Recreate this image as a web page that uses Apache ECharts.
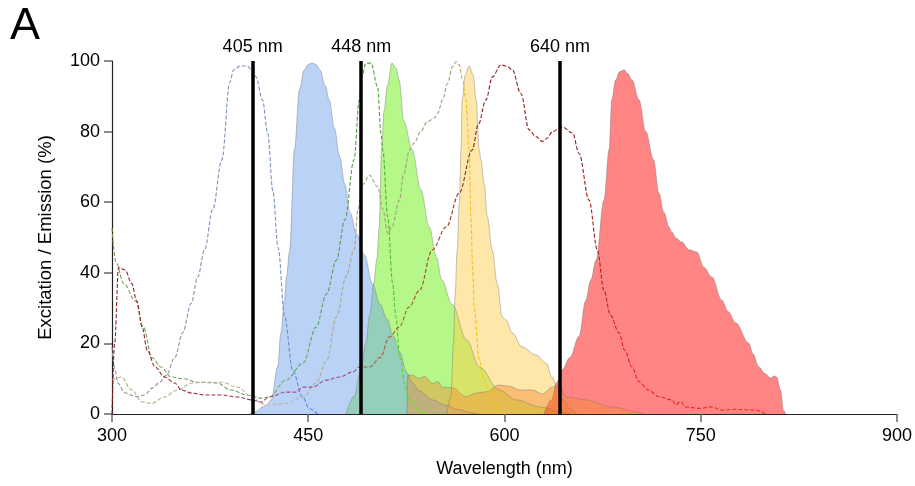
<!DOCTYPE html>
<html>
<head>
<meta charset="utf-8">
<script src="https://cdn.jsdelivr.net/npm/echarts@6/dist/echarts.min.js"></script>
<style>
html,body{margin:0;padding:0;background:#fff;}
#chart{width:915px;height:486px;}
</style>
</head>
<body>
<div id="chart"></div>
<script>
// ---------- DATA ----------
var panelLabel = 'A';
var xTitle = 'Wavelength (nm)';
var yTitle = 'Excitation / Emission (%)';
var xTicks = [300, 450, 600, 750, 900];
var yTicks = [0, 20, 40, 60, 80, 100];

var laserPos = [407.5, 490.5, 642.5];
var laserLabels = ['405 nm', '448 nm', '640 nm'];

// Emission (filled)
var blueEmWl  = [405,410,415,418,421.7,426.7,429,431.8,433.4,435.7,439.5,443.3,447,450,453,456,459,463,466,470,474,478,482,487,493,499,505,510,515,520,525,529,535,545,555,565,575,580];
var blueEmVal = [0,0.7,2,2.5,4,13.4,22.8,32,39,46,75,92,97.5,99,99.4,99,97.5,93,89,81,73,65,57,51,45,37,31,27,22,17.5,12,9,6.5,4,2.5,1.2,0.3,0];

var greenEmWl  = [479,485,490,494,497,500,502.5,504.3,506,508,510.5,514,517,519.5,523,529.5,536,542.5,548,552,560,571,581,596,609,627,645,650];
var greenEmVal = [0,5,12,20,28,37,44,53,75,86,93,99.4,98,94.6,83,74.8,63.5,53,44.5,38,31,21,13.3,6.8,4,2,0.5,0];

var yellowEmWl  = [556,559,561,562.3,563.8,565.5,566.8,567.6,570,573,576,578.3,580.6,582,584.5,586.8,590.6,594.4,598.2,601.3,605.9,613.5,624.2,631.8,636.4,640.2,645,650,655];
var yellowEmVal = [0,5,20,34,46,60,75,89,96,98.6,96,89,75,72,65,56,46.5,37,27.5,26.6,23,19,16.7,14.4,10.5,7.6,4,1.5,0];

var orangeEmWl  = [525.5,526,529.8,534.9,538.7,545,548.9,552.7,560.3,570.5,578.2,585.8,595.9,603.6,611.2,621.4,629,636.6,641.8,647,662,682,702.7,706];
var orangeEmVal = [0,11,11,10.1,10.6,8.7,9.2,7.6,7.4,4.9,5.9,6.3,8.2,7.9,6.8,6.8,5.7,7.6,8.2,4.9,4,2,0.5,0];

var redEmWl  = [630,636,640,644,650,657,662,666,670,676,680,682,685,688,691.4,694,697.5,702.8,708,714,718,722,725.7,728,731,735.6,741,747,752.4,758.5,766,771,776.8,786.7,790,794.4,799,803.5,806,808,811,813.3,815];
var redEmVal = [0,4,9,12.5,16,22,32,38,43.6,60.6,75,89,94.6,97,97.5,96.5,94.6,89,80,72,62.6,57,53,51.5,49.8,48.7,46.5,45.9,41.6,38.8,32.3,29,25.8,20.1,17,13.3,11.5,10.2,10.8,10.5,6.8,1,0];

// Excitation (dashed)
var ex1Wl  = [300,302,304.6,309.7,318.6,325,331,336.4,341.5,348,354,360.6,365.5,370.8,377,384,390,393,398,403,407,410,415,419,423,427,432,438,445.6,451,457];
var ex1Val = [19,13,8.7,6,4.9,5.4,7.4,9,11,16,23,31.4,38.8,46.5,58,72,94,97.5,98.6,98.6,97.5,95.5,89,79.6,63,47,27.5,12.5,4.8,1.5,0];

var ex2Wl  = [300,303,309,318,324,330.5,337.5,345,355,365,380,391,403,414,420,433,446,456,464,471.5,478,485,489,491,494,498,503,505.6,507,510.7,514.5,517,520,524,527,535,540];
var ex2Val = [52.7,43,37,32,24.6,16,13.3,10.5,10,9,8.8,6.8,5.4,4.5,4.8,9.6,14.4,24.6,34,43.6,55,72,89,95.5,99.4,99.4,92.7,79.5,74.8,56,37,27.5,16,8,4,1,0];

var ex3Wl  = [300,307,315,323,330,340,350,361,371,384,396,407,414,420,433,446,456,464,471.5,479,485,488,491.6,496.7,503,507,510.7,514,519.7,523,527.4,531,536,541,546.3,548.9,552.7,556.5,560.3,562.9,565.4,568,570.5,573,574.3,575.6,576.9,580.7,584,588.3,592,596];
var ex3Val = [9.6,10.5,6.8,3.4,3,4.8,6.8,8.8,9,9,7.6,4.8,3,2.5,3,4.8,8.8,15,27.5,39,46.5,58,65,67.7,64.4,58,51.2,53,60.6,68,74.8,76.8,80,82.8,83.8,85.2,89,93.7,98.4,99.8,98.9,94.6,89,74.8,55.9,41.7,30,15.3,10,6.8,3,0];

var ex4Wl  = [300,302,305,310,315,319,323,327,333,340,348,353,361,371,384,396,407,414,420,433,441,445.6,453,464,474,484,489,497,505,512,519.5,527,535,544.8,555.5,565.4,575.3,580,585.8,590.8,597.2,602,606,612.5,618.8,624,629,632.8,636.6,644.3,652,657,664.6,671,676,681,687.5,692,697.4,702.7,710,718,728,730.8,734.6,738.5,748.6,758.6,766,776.6,792,799.5];
var ex4Val = [0,20,41.5,40.8,37,32,24.6,18,13.3,10.5,8.8,6.8,5.9,5.4,5.4,4.8,4,3.4,4.8,6.2,6.2,7.6,7.6,9.6,10.5,11.9,13.3,13.3,16,21.8,24.6,30.3,35,46.5,53,62.6,74.8,82,89,95.5,98.9,98.5,97.5,90.8,80.5,78.6,77.2,78.2,80,81.3,79.6,73.8,60.6,46.5,35,28,23,18,13.3,9.2,6.8,4.9,4,2.6,3.5,2,1.6,2,1.1,1.3,1.1,0];

// ---------- BUILD ----------
function zip(a, b) { return a.map(function (v, i) { return [v, b[i]]; }); }
var G = echarts.graphic.LinearGradient;
var FONT = 'Liberation Sans, Arial, sans-serif';

function fillSeries(name, wl, val, color, z) {
  return {
    name: name, type: 'line', data: zip(wl, val),
    smooth: 0.35, smoothMonotone: 'x', showSymbol: false, symbol: 'none',
    lineStyle: { color: 'rgba(120,120,120,0.55)', width: 0.8 },
    areaStyle: { color: color, opacity: 1 },
    silent: true, z: z
  };
}
function dashSeries(name, wl, val, grad) {
  return {
    name: name, type: 'line', data: zip(wl, val),
    smooth: 0.35, smoothMonotone: 'x', showSymbol: false, symbol: 'none',
    lineStyle: { color: grad, width: 1.1, type: [4, 2] },
    silent: true, z: 3
  };
}

var laserSeries = {
  name: 'lasers', type: 'line', data: [], silent: true, z: 5,
  markLine: {
    silent: true, symbol: ['none', 'none'], animation: false,
    lineStyle: { color: '#000', width: 3.5, type: 'solid' },
    label: {
      show: true, position: 'end', distance: 5, color: '#000', fontSize: 18, fontFamily: FONT,
      formatter: function (p) { return p.name; }
    },
    data: laserPos.map(function (p, i) {
      return [{ coord: [p, 0], name: laserLabels[i] }, { coord: [p, 100] }];
    })
  }
};

var series = [
  fillSeries('green em', greenEmWl, greenEmVal, 'rgba(120,240,40,0.55)', 2),
  fillSeries('blue em', blueEmWl, blueEmVal, 'rgba(120,165,240,0.5)', 2),
  fillSeries('yellow em', yellowEmWl, yellowEmVal, 'rgba(252,205,70,0.47)', 2),
  fillSeries('red em', redEmWl, redEmVal, 'rgba(255,10,10,0.5)', 2),
  fillSeries('orange em', orangeEmWl, orangeEmVal, 'rgba(245,140,50,0.45)', 2),
  dashSeries('ex1', ex1Wl, ex1Val, new G(0, 0, 1, 0, [
    { offset: 0, color: '#9a8ea0' }, { offset: 0.5, color: '#7f8fb5' },
    { offset: 0.8, color: '#7a90c0' }, { offset: 1, color: '#3d85ff' }])),
  dashSeries('ex2', ex2Wl, ex2Val, new G(0, 0, 1, 0, [
    { offset: 0, color: '#7e9c4a' }, { offset: 0.55, color: '#68ac68' },
    { offset: 0.78, color: '#4e9a46' }, { offset: 0.86, color: '#4caf30' },
    { offset: 0.95, color: '#55ee10' }, { offset: 1, color: '#66ff00' }])),
  dashSeries('ex3', ex3Wl, ex3Val, new G(0, 0, 1, 0, [
    { offset: 0, color: '#b5a86a' }, { offset: 0.4, color: '#bcbcaa' },
    { offset: 0.65, color: '#a8a080' }, { offset: 0.88, color: '#a09a78' },
    { offset: 0.91, color: '#f0c020' }, { offset: 1, color: '#ffcc00' }])),
  dashSeries('ex4', ex4Wl, ex4Val, new G(0, 0, 1, 0, [
    { offset: 0, color: '#8b2020' }, { offset: 0.2, color: '#9a3050' },
    { offset: 0.28, color: '#a05088' }, { offset: 0.36, color: '#9a5070' },
    { offset: 0.44, color: '#a8602a' }, { offset: 0.5, color: '#9a4020' },
    { offset: 0.56, color: '#8b1c1c' }, { offset: 0.72, color: '#8b1c1c' },
    { offset: 0.78, color: '#e02020' }, { offset: 1, color: '#ff3030' }])),
  laserSeries
];

var chart = echarts.init(document.getElementById('chart'), null, { renderer: 'canvas' });
chart.setOption({
  animation: false,
  backgroundColor: '#fff',
  textStyle: { fontFamily: FONT },
  title: {
    text: panelLabel, left: 5, top: -1,
    textStyle: { fontSize: 45, fontWeight: 'normal', color: '#000', fontFamily: FONT }
  },
  grid: { left: 112, right: 17, top: 61, bottom: 72, containLabel: false },
  xAxis: {
    type: 'value', min: xTicks[0], max: xTicks[xTicks.length - 1], interval: xTicks[1] - xTicks[0],
    name: xTitle, nameLocation: 'middle', nameGap: 46,
    nameTextStyle: { fontSize: 18, color: '#000' },
    axisLine: { show: true, lineStyle: { color: '#222', width: 1.2 } },
    axisTick: { show: true, inside: false, length: 8, lineStyle: { color: '#666', width: 1.5 } },
    axisLabel: { fontSize: 18, color: '#000', margin: 13 },
    splitLine: { show: false }
  },
  yAxis: {
    type: 'value', min: yTicks[0], max: yTicks[yTicks.length - 1], interval: yTicks[1] - yTicks[0],
    name: yTitle, nameLocation: 'middle', nameGap: 57,
    nameTextStyle: { fontSize: 18.5, color: '#000' },
    axisLine: { show: true, lineStyle: { color: '#222', width: 1.2 } },
    axisTick: { show: true, inside: false, length: 8, lineStyle: { color: '#666', width: 1.5 } },
    axisLabel: { fontSize: 18, color: '#000', margin: 12 },
    splitLine: { show: false }
  },
  series: series
});
</script>
</body>
</html>
